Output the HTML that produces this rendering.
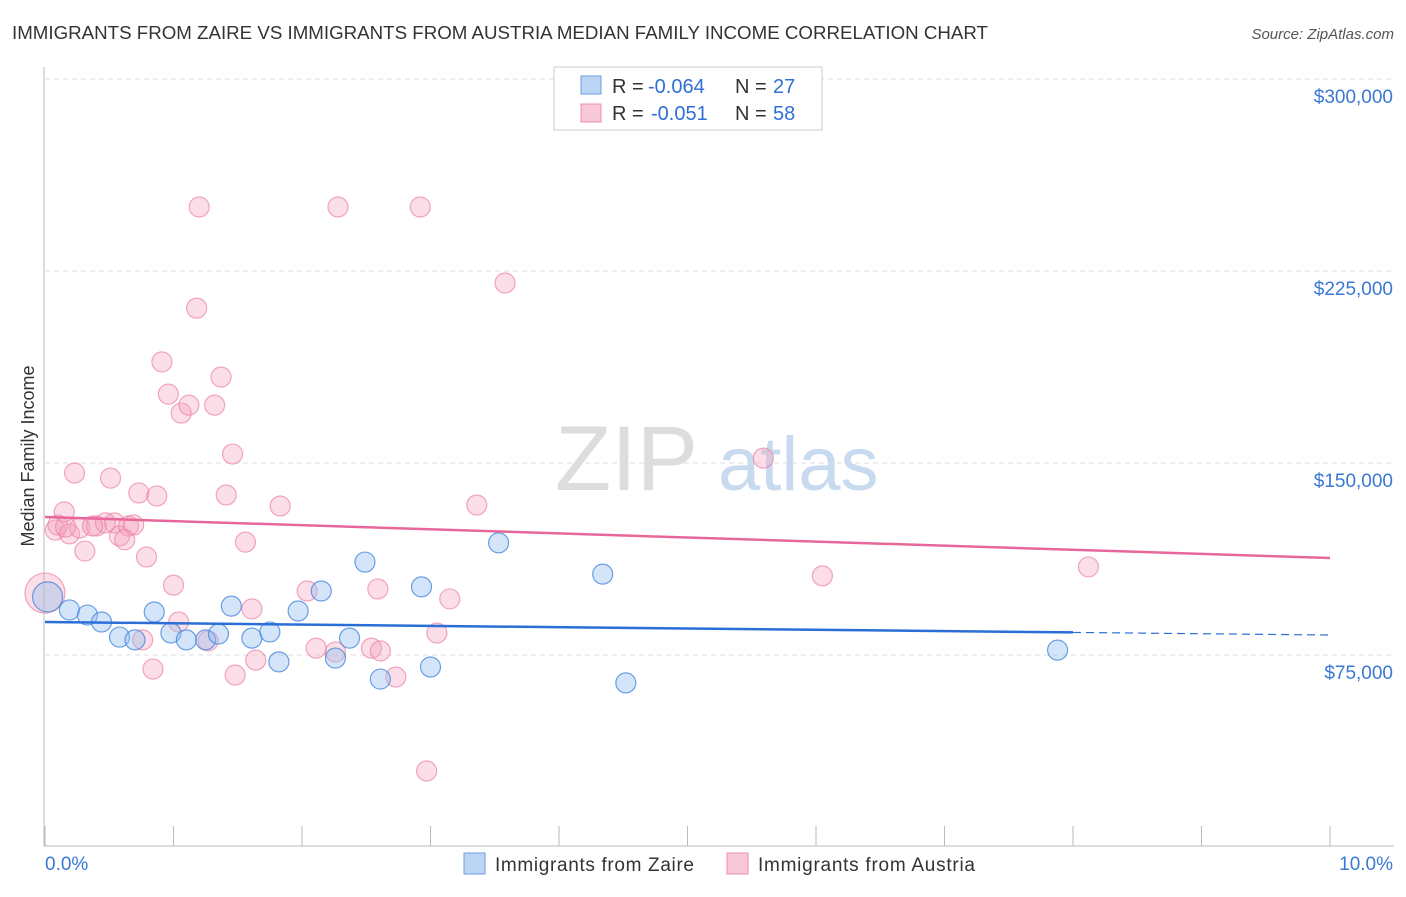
<!DOCTYPE html>
<html><head><meta charset="utf-8"><style>
body{margin:0;background:#fff;font-family:"Liberation Sans",sans-serif;}
svg text{font-family:"Liberation Sans",sans-serif;}
</style></head><body>
<svg id="c" width="1406" height="892">
<text x="12" y="39" font-size="18" fill="#333" textLength="976" lengthAdjust="spacingAndGlyphs">IMMIGRANTS FROM ZAIRE VS IMMIGRANTS FROM AUSTRIA MEDIAN FAMILY INCOME CORRELATION CHART</text>
<text x="1394" y="39" font-size="15" fill="#555" font-style="italic" text-anchor="end">Source: ZipAtlas.com</text>
<text x="34" y="456" font-size="18" fill="#333" text-anchor="middle" transform="rotate(-90 34 456)">Median Family Income</text>
<g><text x="555" y="490" font-size="92" fill="#ddd" font-family="Liberation Serif">ZIP</text><text x="718" y="490" font-size="76" fill="#c8daf0">atlas</text></g>
<g id="grid"></g><g id="axes"></g><g id="pts"></g><g id="lines"></g>
<g>
<rect x="554" y="67" width="268" height="63" fill="#fff" stroke="#ccc"/>
<rect x="581" y="76" width="20" height="18" fill="#bcd5f5" stroke="#6a9ee0"/>
<rect x="581" y="104" width="20" height="18" fill="#f9c8d6" stroke="#ec8fab"/>
<g font-size="20">
<text x="612" y="93" fill="#333">R =</text><text x="648" y="93" fill="#2f6fd6">-0.064</text><text x="735" y="93" fill="#333">N =</text><text x="773" y="93" fill="#2f6fd6">27</text></g>
<g font-size="20">
<text x="612" y="120" fill="#333">R =</text><text x="651" y="120" fill="#2f6fd6">-0.051</text><text x="735" y="120" fill="#333">N =</text><text x="773" y="120" fill="#2f6fd6">58</text></g>
</g>
<g>
<rect x="464" y="853" width="21" height="21" fill="#bcd5f5" stroke="#6a9ee0"/>
<text x="495" y="871" font-size="19" fill="#333" textLength="199">Immigrants from Zaire</text>
<rect x="727" y="853" width="21" height="21" fill="#f9c8d6" stroke="#ec8fab"/>
<text x="758" y="871" font-size="19" fill="#333" textLength="217">Immigrants from Austria</text>
</g>
</svg>
<script>
const yTicks=[75000,150000,225000,300000];
const yTickLabels=["$75,000","$150,000","$225,000","$300,000"];
const xTicks=[0,1,2,3,4,5,6,7,8,9,10];
const xEndLabels=["0.0%","10.0%"];
const zaireX=[0.02,0.19,0.33,0.44,0.58,0.70,0.85,0.98,1.10,1.25,1.35,1.45,1.61,1.75,1.82,1.97,2.15,2.26,2.37,2.49,2.61,2.93,3.00,3.53,4.34,4.52,7.88];
const zaireY=[97.7,92.6,90.6,87.9,82.0,80.9,91.8,83.6,80.9,80.9,83.2,94.1,81.6,84.0,72.3,92.2,100.0,73.8,81.6,111.3,65.6,101.6,70.3,118.8,106.6,64.1,76.9];
const austriaX=[0.00,0.08,0.10,0.15,0.19,0.23,0.27,0.31,0.40,0.51,0.54,0.58,0.65,0.69,0.73,0.76,0.79,0.87,0.84,1.00,0.91,0.96,1.06,1.12,1.04,1.18,1.20,1.27,1.32,1.37,1.41,1.46,1.48,1.56,1.61,1.64,1.83,2.04,2.11,2.26,2.28,2.54,2.59,2.61,2.73,2.92,2.97,3.05,3.15,3.36,3.58,5.59,6.05,8.12,0.47,0.37,0.62,0.16];
const austriaY=[99.2,123.8,125.8,130.9,122.3,146.1,124.6,115.6,125.4,144.1,126.6,121.5,125.4,125.8,138.3,80.9,113.3,137.1,69.5,102.3,189.5,176.9,169.5,172.6,87.9,210.5,250.0,80.5,172.6,183.6,137.5,153.5,67.2,119.1,93.0,73.0,133.2,100.0,77.7,76.2,250.0,77.7,100.8,76.6,66.4,250.0,29.7,83.6,96.9,133.6,220.3,151.9,105.9,109.4,126.6,125.4,120.0,125.0];
const zaireTrend=[87.9,82.8];
const austriaTrend=[128.9,112.9];
const NS='http://www.w3.org/2000/svg';
const X=v=>45+v*128.5, Y=k=>847-k*1000/75000*192;
function mk(tag,at,parent){const e=document.createElementNS(NS,tag);for(const k in at)e.setAttribute(k,at[k]);document.getElementById(parent).appendChild(e);return e;}
yTicks.forEach((t,i)=>{
 const l=mk('line',{x1:45,x2:1394,y1:Y(t/1000),y2:Y(t/1000),stroke:'#ddd','stroke-dasharray':'5,4'},'grid');
 
 
 const tx=mk('text',{x:1393,y:Y(t/1000)+24,'font-size':19,fill:'#3a78d4','text-anchor':'end'},'axes');
 tx.textContent=yTickLabels[i];
 
 
});
const ya=mk('line',{x1:44,x2:44,y1:67,y2:846,stroke:'#bbb'},'axes');


const xa=mk('line',{x1:44,x2:1394,y1:846,y2:846,stroke:'#bbb'},'axes');


xTicks.forEach(t=>{
 const l=mk('line',{x1:X(t),x2:X(t),y1:826,y2:846,stroke:'#bbb'},'axes');
 
 
});
const xl0=mk('text',{x:45,y:870,'font-size':19,fill:'#3a78d4'},'axes');xl0.textContent=xEndLabels[0];


const xl1=mk('text',{x:1393,y:870,'font-size':19,fill:'#3a78d4','text-anchor':'end'},'axes');xl1.textContent=xEndLabels[1];


austriaX.forEach((v,i)=>{
 const c=mk('circle',{cx:X(v),cy:Y(austriaY[i]),r:i==0?20:10,fill:'rgba(244,160,187,0.35)',stroke:'rgba(236,130,165,0.7)','stroke-width':1.2},'pts');
 
 
});
zaireX.forEach((v,i)=>{
 const c=mk('circle',{cx:X(v),cy:Y(zaireY[i]),r:i==0?15:10,fill:'rgba(150,190,240,0.4)',stroke:'rgba(60,130,220,0.75)','stroke-width':1.2},'pts');
 
 
});
const at=v=>austriaTrend[0]+(austriaTrend[1]-austriaTrend[0])*v/10;
const zt=v=>zaireTrend[0]+(zaireTrend[1]-zaireTrend[0])*v/10;
const pl=mk('line',{x1:X(0),y1:Y(at(0)),x2:X(10),y2:Y(at(10)),stroke:'#e8679a','stroke-width':2.5},'lines');


const bl=mk('line',{x1:X(0),y1:Y(zt(0)),x2:X(8),y2:Y(zt(8)),stroke:'#2b6fd6','stroke-width':2.5},'lines');


const bd=mk('line',{x1:X(8),y1:Y(zt(8)),x2:X(10),y2:Y(zt(10)),stroke:'#2b6fd6','stroke-width':1.2,'stroke-dasharray':'8,5'},'lines');


</script>
</body></html>
